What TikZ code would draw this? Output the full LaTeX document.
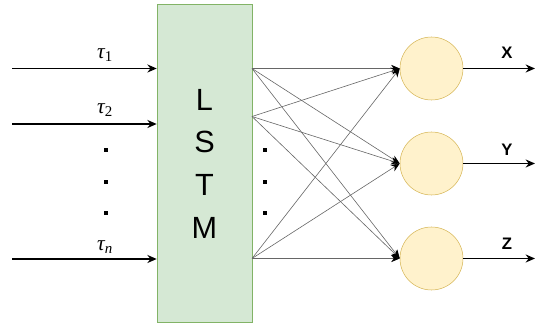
\documentclass[tikz,border=0pt]{standalone}
\usepackage{fontspec}
\setmainfont{Liberation Sans}
\newfontfamily\symfont{Liberation Serif}
\usepackage{tikz}
\usetikzlibrary{arrows.meta,positioning}
\definecolor{lstmfill}{HTML}{D5E8D4}
\definecolor{lstmdraw}{HTML}{82B366}
\definecolor{unitfill}{HTML}{FFF2CC}
\definecolor{unitdraw}{HTML}{D6B656}
\newcommand{\tauin}[1]{τ\textsubscript{#1}}

\begin{document}
\begin{tikzpicture}[
  x=0.75pt,y=-0.75pt,
  every node/.style={font=\small},
  inarrow/.style={black, line width=1.4pt, -{Stealth[length=7pt,width=6pt]}},
  link/.style={black!60, line width=0.45pt, -{Stealth[length=6.5pt,width=5.5pt,color=black]}},
  unit/.style={circle, draw=unitdraw, fill=unitfill, minimum size=47.25pt, inner sep=0pt},
  dotmark/.style={fill=black, minimum size=2.4pt, inner sep=0pt},
  inlabel/.style={font=\symfont\itshape\fontsize{16}{18}\selectfont},
  outlabel/.style={font=\bfseries\fontsize{12.5}{15}\selectfont}
]
\useasboundingbox (0,0) rectangle (537,324);

% recurrent block
\node[draw=lstmdraw, fill=lstmfill, minimum width=71.25pt, minimum height=238.5pt,
      align=center, font=\fontsize{23}{32}\selectfont] (lstm) at (204.5,163.5) {L\\S\\T\\M};

% inputs
\coordinate (t1) at (12,68.5);
\coordinate (t2) at (12,124);
\coordinate (tn) at (12,259);
\foreach \t in {t1,t2,tn} {
  \draw[inarrow] (\t) -- (\t -| lstm.west);
}
\node[inlabel] (lab1) at (105,55) {\tauin{\upshape 1}};
\node[inlabel] (lab2) at (105,110) {\tauin{\upshape 2}};
\node[inlabel] (labn) at (105,247) {\tauin{n}};
\foreach \y [count=\i] in {150,182,213} {
  \node[dotmark] (ld\i) at (106,\y) {};
  \node[dotmark] (rd\i) at (265,\y) {};
}

% output units
\node[unit] (o1) at (431.5,68.5) {};
\node[unit] (o2) at (431.5,163.5) {};
\node[unit] (o3) at (431.5,258.5) {};

\coordinate (s1) at (252,68.5);
\coordinate (s2) at (252,116.5);
\coordinate (s3) at (252,258.5);
\foreach \s in {s1,s2,s3} {
  \foreach \o in {o1,o2,o3} {
    \draw[link] (\s) -- (\o.west);
  }
}

\coordinate (rim) at (535,0);
\foreach \o in {o1,o2,o3} {
  \draw[inarrow] (\o.east) -- (rim |- \o.center);
}
\node[outlabel] (labx) at (507,53) {X};
\node[outlabel] (laby) at (507,150) {Y};
\node[outlabel] (labz) at (507,244) {Z};
\end{tikzpicture}
\end{document}
